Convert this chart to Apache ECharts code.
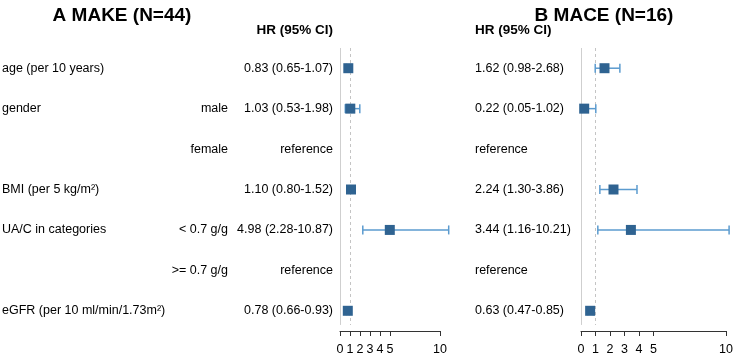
<!DOCTYPE html>
<html>
<head>
<meta charset="utf-8">
<script src="https://cdn.jsdelivr.net/npm/echarts@6/dist/echarts.min.js"></script>
<style>
  html, body { margin: 0; padding: 0; background: #fff; }
  #chart { width: 736px; height: 359px; }
</style>
</head>
<body>
<div id="chart"></div>
<script>
// rows of the forest plot, top to bottom
const varNames = ['age (per 10 years)', 'gender', '', 'BMI (per 5 kg/m²)', 'UA/C in categories', '', 'eGFR (per 10 ml/min/1.73m²)'];
const levels = ['', 'male', 'female', '', '< 0.7 g/g', '>= 0.7 g/g', ''];

// A MAKE (N=44)
const makeHR = [0.83, 1.03, null, 1.10, 4.98, null, 0.78];
const makeLo = [0.65, 0.53, null, 0.80, 2.28, null, 0.66];
const makeHi = [1.07, 1.98, null, 1.52, 10.87, null, 0.93];

// B MACE (N=16)
const maceHR = [1.62, 0.22, null, 2.24, 3.44, null, 0.63];
const maceLo = [0.98, 0.05, null, 1.30, 1.16, null, 0.47];
const maceHi = [2.68, 1.02, null, 3.86, 10.21, null, 0.85];

const xTicks = [0, 1, 2, 3, 4, 5, 10];

const FONT = '"Liberation Sans", Arial, sans-serif';
const SQUARE = '#2f6391';
const BAR = '#5b9bcf';

function hrText(hr, lo, hi, i) {
  if (hr[i] == null) return 'reference';
  return hr[i].toFixed(2) + ' (' + lo[i].toFixed(2) + '-' + hi[i].toFixed(2) + ')';
}

function barData(hr, lo, hi) {
  const out = [];
  hr.forEach((v, i) => { if (v != null) out.push([i, lo[i], hi[i]]); });
  return out;
}
function pointData(hr) {
  const out = [];
  hr.forEach((v, i) => { if (v != null) out.push([v, i]); });
  return out;
}

function renderBar(params, api) {
  const row = api.value(0);
  const a = api.coord([api.value(1), row]);
  const b = api.coord([api.value(2), row]);
  const st = { stroke: BAR, lineWidth: 1.5 };
  return {
    type: 'group',
    children: [
      { type: 'line', shape: { x1: a[0], y1: a[1], x2: b[0], y2: b[1] }, style: st },
      { type: 'line', shape: { x1: a[0], y1: a[1] - 4.5, x2: a[0], y2: a[1] + 4.5 }, style: st },
      { type: 'line', shape: { x1: b[0], y1: b[1] - 4.5, x2: b[0], y2: b[1] + 4.5 }, style: st }
    ]
  };
}

function renderText(params, api) {
  const i = params.dataIndex;
  const y = api.coord([0, api.value(0)])[1];
  const base = { fill: '#000', fontSize: 12.5, fontFamily: FONT, textVerticalAlign: 'middle' };
  return {
    type: 'group',
    children: [
      { type: 'text', style: Object.assign({}, base, { text: varNames[i], x: 2, y: y, textAlign: 'left' }) },
      { type: 'text', style: Object.assign({}, base, { text: levels[i], x: 228, y: y, textAlign: 'right' }) },
      { type: 'text', style: Object.assign({}, base, { text: hrText(makeHR, makeLo, makeHi, i), x: 333, y: y, textAlign: 'right' }) },
      { type: 'text', style: Object.assign({}, base, { text: hrText(maceHR, maceLo, maceHi, i), x: 475, y: y, textAlign: 'left' }) }
    ]
  };
}

function refLines() {
  return {
    silent: true,
    symbol: 'none',
    z: 0,
    label: { show: false },
    emphasis: { disabled: true },
    data: [
      [{ coord: [0, -0.5], lineStyle: { color: '#cfcfcf', type: 'solid', width: 1 } }, { coord: [0, 6.35] }],
      [{ coord: [1, -0.5], lineStyle: { color: '#c4c4c4', type: [3, 3], width: 1 } }, { coord: [1, 6.35] }]
    ]
  };
}

function xAxis(idx) {
  return {
    gridIndex: idx, type: 'value', min: 0, max: 10, interval: 1, position: 'bottom',
    splitLine: { show: false },
    axisLine: { show: true, onZero: false, lineStyle: { color: '#333', width: 1 } },
    axisTick: { show: true, length: 5, customValues: xTicks, lineStyle: { color: '#333' } },
    axisLabel: { customValues: xTicks, color: '#000', fontSize: 12.5, fontFamily: FONT, margin: 12 }
  };
}
function yAxis(idx) {
  return { gridIndex: idx, type: 'value', inverse: true, min: -0.5, max: 6.5, show: false };
}

const chart = echarts.init(document.getElementById('chart'));
chart.setOption({
  animation: false,
  title: [
    { text: 'A MAKE (N=44)', left: 122, top: 6, textAlign: 'center', padding: 0,
      textStyle: { fontSize: 19, fontWeight: 'bold', color: '#000', fontFamily: FONT } },
    { text: 'B MACE (N=16)', left: 604, top: 6, textAlign: 'center', padding: 0,
      textStyle: { fontSize: 19, fontWeight: 'bold', color: '#000', fontFamily: FONT } },
    { text: 'HR (95% CI)', left: 333, top: 23, textAlign: 'right', padding: 0,
      textStyle: { fontSize: 13.5, fontWeight: 'bold', color: '#000', fontFamily: FONT } },
    { text: 'HR (95% CI)', left: 475, top: 23, textAlign: 'left', padding: 0,
      textStyle: { fontSize: 13.5, fontWeight: 'bold', color: '#000', fontFamily: FONT } }
  ],
  grid: [
    { left: 340, top: 48, width: 100, height: 283 },
    { left: 581, top: 48, width: 147, height: 283 }
  ],
  xAxis: [xAxis(0), xAxis(1)],
  yAxis: [yAxis(0), yAxis(1)],
  series: [
    { type: 'custom', xAxisIndex: 0, yAxisIndex: 0, clip: false, silent: true,
      data: varNames.map((n, i) => [i]), renderItem: renderText, z: 1 },
    { type: 'scatter', xAxisIndex: 0, yAxisIndex: 0, data: [], markLine: refLines(), z: 0 },
    { type: 'scatter', xAxisIndex: 1, yAxisIndex: 1, data: [], markLine: refLines(), z: 0 },
    { type: 'custom', xAxisIndex: 0, yAxisIndex: 0, clip: false, silent: true,
      data: barData(makeHR, makeLo, makeHi), renderItem: renderBar, z: 2 },
    { type: 'custom', xAxisIndex: 1, yAxisIndex: 1, clip: false, silent: true,
      data: barData(maceHR, maceLo, maceHi), renderItem: renderBar, z: 2 },
    { type: 'scatter', xAxisIndex: 0, yAxisIndex: 0, symbol: 'rect', symbolSize: 10,
      itemStyle: { color: SQUARE, opacity: 1 }, data: pointData(makeHR), z: 3, silent: true },
    { type: 'scatter', xAxisIndex: 1, yAxisIndex: 1, symbol: 'rect', symbolSize: 10,
      itemStyle: { color: SQUARE, opacity: 1 }, data: pointData(maceHR), z: 3, silent: true }
  ]
});
</script>
</body>
</html>
